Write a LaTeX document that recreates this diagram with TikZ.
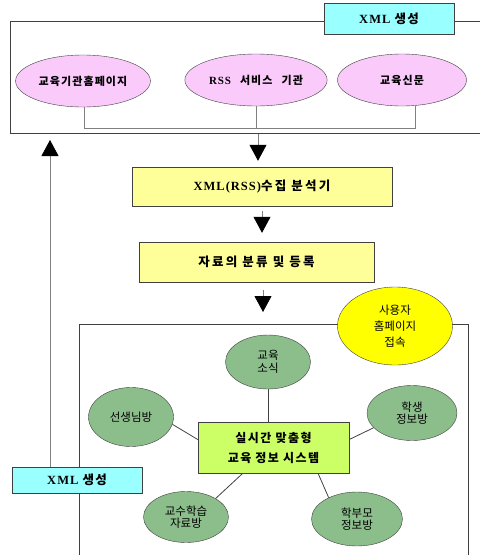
\documentclass[tikz,border=0pt]{standalone}
\usepackage{fontspec}
\setmainfont{Noto Sans CJK KR}
\newfontfamily\latin[LetterSpace=8]{Liberation Serif}
\newfontfamily\sitefont[LetterSpace=10,WordSpace=2.5]{Noto Sans CJK KR}
\usetikzlibrary{arrows.meta,shapes.geometric}

\definecolor{xmlcyan}{RGB}{153,255,255}
\definecolor{sitepink}{RGB}{250,202,250}
\definecolor{stepyellow}{RGB}{255,255,153}
\definecolor{usersun}{RGB}{255,255,0}
\definecolor{roomgreen}{RGB}{140,190,140}
\definecolor{hublime}{RGB}{204,255,102}
\definecolor{framegray}{RGB}{64,64,64}
\definecolor{busgray}{RGB}{128,128,128}

\tikzset{
  frameline/.style={draw=framegray,line width=0.8pt},
  busline/.style={draw=busgray,line width=0.8pt},
  flow/.style={draw=busgray,line width=0.8pt,-{Triangle[width=17pt,length=16pt,color=black]}},
  xmlbox/.style={draw=framegray,fill=xmlcyan,minimum width=130pt,
    font=\fontsize{12.5}{14}\selectfont\bfseries\addfontfeatures{LetterSpace=10}},
  site/.style={ellipse,draw=framegray,fill=sitepink,minimum height=52pt,
    font=\sitefont\fontsize{11}{13}\selectfont\bfseries},
  stepbox/.style={draw=framegray,fill=stepyellow,
    font=\fontsize{12.5}{14}\selectfont\bfseries\addfontfeatures{LetterSpace=18}},
  room/.style={ellipse,draw=framegray,fill=roomgreen,align=center,inner sep=0pt,
    font=\fontsize{11.5}{12.5}\selectfont},
}

\begin{document}
\begin{tikzpicture}[x=1pt,y=-1pt]
  \useasboundingbox (0,0) rectangle (480,555);
  \draw[frameline] (480,21) -- (10,21) -- (10,133) -- (480,133);
  \draw[frameline] (79,555) -- (79,324) -- (468,324) -- (468,555);

  \node[xmlbox,minimum height=31pt] (xmlT) at (389,18.5) {{\latin XML} 생성};
  \node[site,minimum width=130pt] (home) at (83,81) {교육기관홈페이지};
  \node[site,minimum width=126pt] (rss) at (256,80) {{\latin RSS} 서비스 기관};
  \node[site,minimum width=129pt] (paper) at (402,80) {교육신문};
  \coordinate (bus) at (0,128);
  \draw[busline] (home.-86) -- (home.-86 |- bus) -- (paper.-63 |- bus) -- (paper.-63);
  \draw[busline] (rss.south) -- (rss.south |- bus);

  \node[stepbox,minimum width=260pt,minimum height=39pt] (collect) at (262,186.5) {{\latin XML(RSS)}수집 분석기};
  \node[stepbox,minimum width=235pt,minimum height=40pt] (sort) at (256.5,262) {자료의 분류 및 등록};
  \coordinate (feed) at (258,134);
  \coordinate (portal) at (263,324);
  \draw[flow,shorten >=6pt] (feed) -- (feed |- collect.north);
  \draw[flow,shorten <=5pt,shorten >=9pt] (collect.south) -- (collect.south |- sort.north);
  \draw[flow,shorten <=8pt,shorten >=12pt] (portal |- sort.south) -- (portal);

  \node[ellipse,draw=framegray,fill=usersun,minimum width=115pt,minimum height=78pt,
        align=center,inner sep=0pt,font=\fontsize{11.5}{16}\selectfont] (user) at (395,326) {사용자\\홈페이지\\접속};

  \node[draw=framegray,fill=hublime,minimum width=151pt,minimum height=51pt,align=center,
        font=\fontsize{12}{20}\selectfont\bfseries\addfontfeatures{LetterSpace=12}] (hub) at (273.5,447.5) {실시간 맞춤형\\교육 정보 시스템};
  \node[room,minimum width=85pt,minimum height=54pt] (news) at (268,362) {교육\\소식};
  \node[room,minimum width=85pt,minimum height=59pt] (teacher) at (131,417) {선생님방};
  \node[room,minimum width=90pt,minimum height=55pt] (student) at (412,413) {학생\\정보방};
  \node[room,minimum width=85pt,minimum height=51pt] (lesson) at (186,517) {교수학습\\자료방};
  \node[room,minimum width=91pt,minimum height=54pt] (parent) at (357,519) {학부모\\정보방};

  \draw[frameline] (news.south) -- (news.south |- hub.north);
  \draw[frameline] (teacher.-10) -- (hub.174);
  \draw[frameline] (student.-159) -- (hub.6);
  \draw[frameline] (lesson.32) -- (hub.-140);
  \draw[frameline] (parent.143) -- (hub.-30);

  \node[xmlbox,minimum height=26pt] (xmlB) at (77,480) {{\latin XML} 생성};
  \coordinate (back) at (50,140);
  \draw[flow] (xmlB.north -| back) -- (back);
\end{tikzpicture}
\end{document}
